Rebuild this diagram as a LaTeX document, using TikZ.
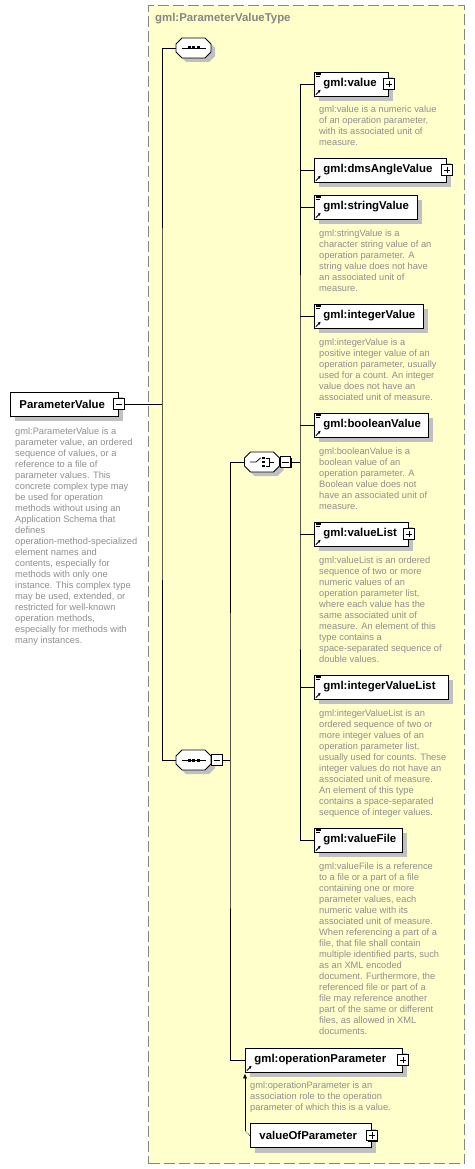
\documentclass[tikz,border=0pt]{standalone}
\usepackage{fontspec}
\setmainfont{Liberation Sans}
\usetikzlibrary{arrows.meta,positioning,calc,shadows}
\definecolor{xsdyellow}{HTML}{FFFFCC}
\definecolor{xsdframe}{HTML}{858585}
\definecolor{xsddoc}{HTML}{8E8E8E}
\definecolor{xsdshadow}{HTML}{C0C0C0}
\newcommand{\namefont}{\fontsize{11.4}{13}\selectfont\bfseries}
\newcommand{\docfont}{\fontsize{9.3}{11}\selectfont}
% expand / collapse boxes
\newcommand{\plusbox}[1]{%
  \node[pmbox] (#1-plus) at (#1.east) {};
  \draw[line width=0.8pt] (#1-plus.center) +(-3.2,0) -- +(3.2,0) +(0,-3.2) -- +(0,3.2);}
\newcommand{\minusbox}[1]{%
  \node[pmbox, right=0pt of #1] (#1-minus) {};
  \draw[line width=0.8pt] (#1-minus.center) +(-3.2,0) -- +(3.2,0);}
% compositor outline (chamfered, with shadow)
\newcommand{\compositor}[2]{%
  \node[compbox] (#1) at (#2) {};
  \begin{scope}[shift={(#1.center)}]
    \fill[xsdshadow, shift={(4,-4)}] (-11.5,10) -- (11.5,10) -- (17.5,4) -- (17.5,-4)
      -- (11.5,-10) -- (-11.5,-10) -- (-17.5,-4) -- (-17.5,4) -- cycle;
    \filldraw[fill=white, line width=0.9pt] (-11.5,10) -- (11.5,10) -- (17.5,4) -- (17.5,-4)
      -- (11.5,-10) -- (-11.5,-10) -- (-17.5,-4) -- (-17.5,4) -- cycle;
  \end{scope}}
% little icons inside element boxes
\newcommand{\refmark}[1]{%
  \draw[line width=0.8pt, -{Latex[length=3pt,width=3pt]}]
    ($(#1.south west)+(1.8,1.8)$) -- ++(5,5);}
\newcommand{\docmark}[1]{%
  \foreach \k/\w in {1.3/5,3.1/5,4.9/4}
    {\draw[line width=0.6pt] ($(#1.north west)+(1.6,-\k)$) -- ++(\w,0);}}

\begin{document}
\begin{tikzpicture}[
  x=1pt, y=1pt,
  conn/.style={draw=black, line width=0.9pt},
  typeframe/.style={draw=xsdframe, fill=xsdyellow, line width=1.2pt,
                    dash pattern=on 11pt off 4pt, inner sep=0pt},
  typetitle/.style={font=\namefont, text=xsdframe, inner sep=0pt},
  elem/.style={draw=black, fill=white, line width=0.9pt, anchor=west,
               minimum height=24pt, inner xsep=9pt, inner ysep=0pt,
               align=left, font=\namefont,
               drop shadow={shadow xshift=5pt, shadow yshift=-5pt,
                            fill=xsdshadow, opacity=1}},
  doc/.style={font=\docfont, text=xsddoc, align=left, inner sep=0pt},
  compbox/.style={minimum width=35pt, minimum height=20pt, inner sep=0pt},
  pmbox/.style={draw=black, fill=white, line width=0.9pt, minimum size=10.5pt,
                inner sep=0pt,
                drop shadow={shadow xshift=1pt, shadow yshift=-1pt,
                             fill=black, opacity=1}}
]
\useasboundingbox (0,0) rectangle (474,-1169);

% complex type frame
\node[typeframe, anchor=north west, minimum width=316pt, minimum height=1158pt]
  (ptype) at (148,-5) {};
\node[typetitle, anchor=base west] (ptype-title) at ($(ptype.north west)+(7,-17)$)
  {gml:ParameterValueType};

% root element
\node[elem, text width=90pt] (pv) at (10,-404) {ParameterValue};
\node[pmbox] (pv-minus) at (pv.east) {};
\draw[line width=0.8pt] (pv-minus.center) +(-3.2,0) -- +(3.2,0);
\node[doc, below=11pt of pv.south west, anchor=north west, xshift=5pt] (pv-doc)
  {gml:ParameterValue is a\\parameter value, an ordered\\sequence of values, or a\\
   reference to a file of\\parameter values. This\\concrete complex type may\\
   be used for operation\\methods without using an\\Application Schema that\\
   defines\\operation-method-specialized\\element names and\\
   contents, especially for\\methods with only one\\instance. This complex type\\
   may be used, extended, or\\restricted for well-known\\operation methods,\\
   especially for methods with\\many instances.};

% compositors
\compositor{seqtop}{193.5,-48}
\compositor{seqmain}{193.5,-760}
\compositor{choice}{262,-462}
\minusbox{seqmain}
\minusbox{choice}
\foreach \s in {seqtop,seqmain}{
  \begin{scope}[shift={(\s.center)}]
    \draw[line width=0.8pt] (-12,0) -- (12,0);
    \foreach \d in {-4.5,0,4.5}
      \fill (\d,0) +(-1.5,-1.5) rectangle +(1.5,1.5);
  \end{scope}}
\begin{scope}[shift={(choice.center)}, line width=0.8pt]
  \draw (-12,0) -- (-6,0) -- (-1.5,4);
  \foreach \d in {4,0,-4}
    \fill (1.5,\d) +(-1.2,-1.2) rectangle +(1.2,1.2);
  \draw (3.5,4) -- (7,4) -- (7,-4) -- (3.5,-4);
  \draw (7,0) -- (12,0);
\end{scope}

% choice members
\node[elem, text width=56pt]  (value)        at (314,-84)  {gml:value};
\node[elem, text width=114pt] (dmsangle)     at (314,-170) {gml:dmsAngleValue};
\node[elem, text width=85pt]  (stringvalue)  at (314,-207) {gml:stringValue};
\node[elem, text width=91pt]  (integervalue) at (314,-316) {gml:integerValue};
\node[elem, text width=96pt]  (booleanvalue) at (314,-425) {gml:booleanValue};
\node[elem, text width=76pt]  (valuelist)    at (314,-534) {gml:valueList};
\node[elem, text width=116pt] (integerlist)  at (314,-687) {gml:integerValueList};
\node[elem, text width=70pt]  (valuefile)    at (314,-840) {gml:valueFile};
\plusbox{value}
\plusbox{dmsangle}
\plusbox{valuelist}

\node[doc, below=9.5pt of value.south west, anchor=north west, xshift=5pt] (value-doc)
  {gml:value is a numeric value\\of an operation parameter,\\with its associated unit of\\measure.};
\node[doc, below=10pt of stringvalue.south west, anchor=north west, xshift=5pt] (stringvalue-doc)
  {gml:stringValue is a\\character string value of an\\operation parameter.  A\\
   string value does not have\\an associated unit of\\measure.};
\node[doc, below=10pt of integervalue.south west, anchor=north west, xshift=5pt] (integervalue-doc)
  {gml:integerValue is a\\positive integer value of an\\operation parameter, usually\\
   used for a count. An integer\\value does not have an\\associated unit of measure.};
\node[doc, below=10pt of booleanvalue.south west, anchor=north west, xshift=5pt] (booleanvalue-doc)
  {gml:booleanValue is a\\boolean value of an\\operation parameter.  A\\
   Boolean value does not\\have an associated unit of\\measure.};
\node[doc, below=10pt of valuelist.south west, anchor=north west, xshift=5pt] (valuelist-doc)
  {gml:valueList is an ordered\\sequence of two or more\\numeric values of an\\
   operation parameter list,\\where each value has the\\same associated unit of\\
   measure. An element of this\\type contains a\\space-separated sequence of\\
   double values.};
\node[doc, below=10pt of integerlist.south west, anchor=north west, xshift=5pt] (integerlist-doc)
  {gml:integerValueList is an\\ordered sequence of two or\\more integer values of an\\
   operation parameter list,\\usually used for counts. These\\integer values do not have an\\
   associated unit of measure.\\An element of this type\\contains a space-separated\\
   sequence of integer values.};
\node[doc, below=10pt of valuefile.south west, anchor=north west, xshift=5pt] (valuefile-doc)
  {gml:valueFile is a reference\\to a file or a part of a file\\containing one or more\\
   parameter values, each\\numeric value with its\\associated unit of measure.\\
   When referencing a part of a\\file, that file shall contain\\multiple identified parts, such\\
   as an XML encoded\\document. Furthermore, the\\referenced file or part of a\\
   file may reference another\\part of the same or different\\files, as allowed in XML\\
   documents.};

% sequence tail
\node[elem, text width=139pt] (opparam) at (245,-1060) {gml:operationParameter};
\node[elem, text width=103pt] (valueofparam) at (250,-1135.5) {valueOfParameter};
\plusbox{opparam}
\plusbox{valueofparam}
\node[doc, below=9pt of opparam.south west, anchor=north west, xshift=5pt] (opparam-doc)
  {gml:operationParameter is an\\association role to the operation\\parameter of which this is a value.};

\foreach \e in {value,stringvalue,integervalue,booleanvalue,valuelist,integerlist,valuefile}
  {\docmark{\e}}
\foreach \e in {value,dmsangle,stringvalue,integervalue,booleanvalue,valuelist,integerlist,valuefile,opparam}
  {\refmark{\e}}

% connectors
\coordinate (pvjoin) at (162,-404);
\coordinate (mainjoin) at (230,-760);
\coordinate (choicejoin) at (300,-462);
\coordinate (substbend) at (245,-1131);
\draw[conn] (pv-minus.east) -- (pvjoin);
\draw[conn] (seqtop.west) -| (pvjoin) |- (seqmain.west);
\draw[conn] (seqmain-minus.east) -- (mainjoin);
\draw[conn] (choice.west) -| (mainjoin) |- (opparam.west);
\draw[conn] (choice-minus.east) -- (choicejoin);
\draw[conn] (value.west) -| (choicejoin) |- (valuefile.west);
\foreach \e in {dmsangle,stringvalue,integervalue,booleanvalue,valuelist,integerlist}
  {\draw[conn] (\e.west) -- (\e.west -| choicejoin);}
\draw[line width=0.7pt, densely dotted] (valueofparam.west) -- (substbend);
\draw[conn, -{Latex[length=5pt,width=4.5pt]}, shorten >=1pt] (substbend) -- (substbend |- opparam.south);
\end{tikzpicture}
\end{document}
